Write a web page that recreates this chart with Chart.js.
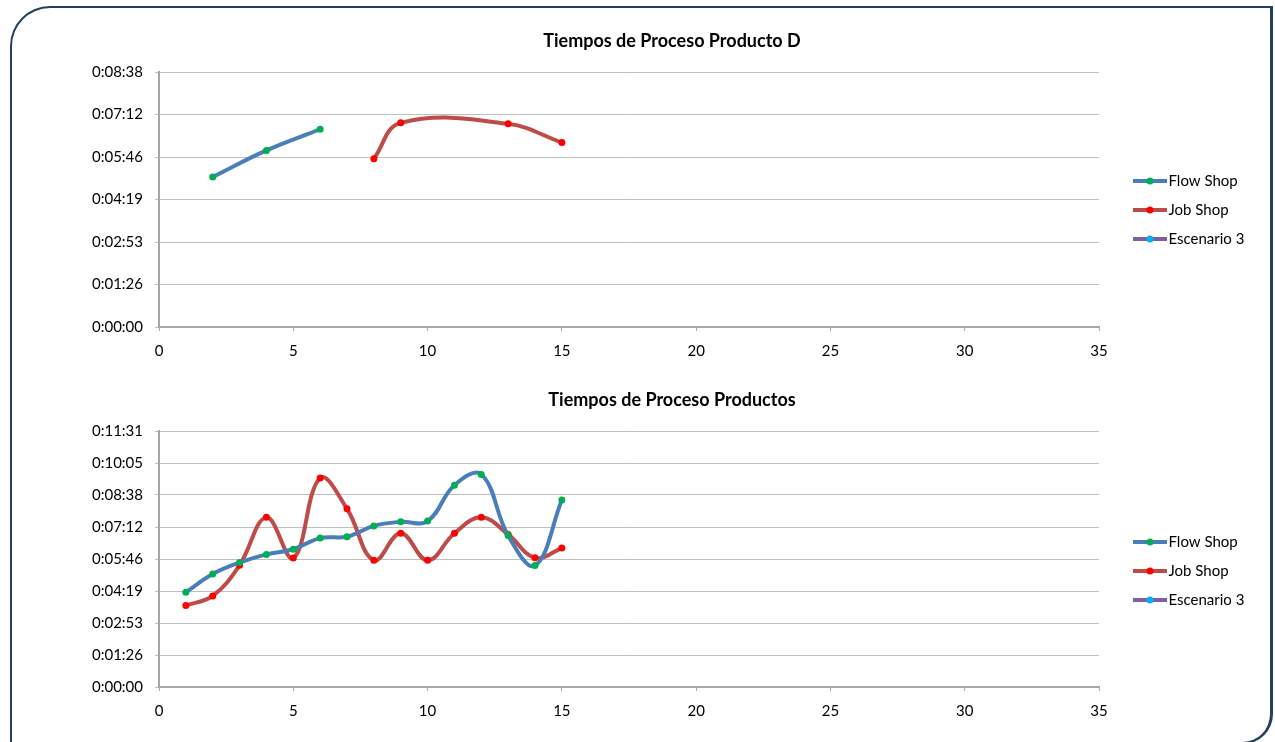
<!DOCTYPE html>
<html><head><meta charset="utf-8">
<script src="https://cdn.jsdelivr.net/npm/chart.js@4/dist/chart.umd.min.js"></script>
<style>
html,body{margin:0;padding:0;width:1275px;height:742px;overflow:hidden;background:#fff;}
#frame{position:absolute;left:10px;top:6px;width:1263px;height:738px;box-sizing:border-box;border:2px solid #243F60;border-right-width:3px;border-radius:40px 0 30px 0;}
canvas{position:absolute;left:69px;}
#c1{top:0;width:1206px;height:420px;}
#c2{top:389px;width:1206px;height:364px;}
</style></head><body>
<div id="frame"></div>
<canvas id="c1" width="1206" height="420"></canvas>
<canvas id="c2" width="1206" height="364"></canvas>
<script>
// ---- data (values in seconds) ----
const topTitle = 'Tiempos de Proceso Producto D';
const bottomTitle = 'Tiempos de Proceso Productos';
const seriesNames = ['Flow Shop', 'Job Shop', 'Escenario 3'];
const topFlowX = [2, 4, 6];
const topFlowY = [305, 359, 402];
const topJobX = [8, 9, 13, 15];
const topJobY = [342, 415, 413, 375];
const bottomX = [1, 2, 3, 4, 5, 6, 7, 8, 9, 10, 11, 12, 13, 14, 15];
const bottomFlowY = [256, 305, 336, 358, 372, 402, 406, 435, 446, 448, 545, 574, 409, 328, 505];
const bottomJobY = [220, 246, 329, 458, 348, 564, 481, 342, 415, 342, 415, 458, 412, 349, 375];
const esc3X = [];
const esc3Y = [];
const xTicks = [0, 5, 10, 15, 20, 25, 30, 35];
const topYTicks = ['0:00:00', '0:01:26', '0:02:53', '0:04:19', '0:05:46', '0:07:12', '0:08:38'];
const bottomYTicks = ['0:00:00', '0:01:26', '0:02:53', '0:04:19', '0:05:46', '0:07:12', '0:08:38', '0:10:05', '0:11:31'];
const yStep = 86.4; // 0.001 day

// ---- styles ----
const FONT = 'Lato';
const lineColors = ['#4A7EBB', '#BE4B48', '#7D60A0'];
const dotColors = ['#00B050', '#FF0000', '#00B0F0'];

function legendIcon(lc, dc) {
  const c = document.createElement('canvas');
  c.width = 60; c.height = 10;
  const g = c.getContext('2d');
  g.strokeStyle = lc; g.lineWidth = 4;
  g.beginPath(); g.moveTo(26, 5); g.lineTo(60, 5); g.stroke();
  g.fillStyle = dc; g.beginPath(); g.arc(43, 5, 3.5, 0, Math.PI * 2); g.fill();
  return c;
}
const icons = lineColors.map((lc, i) => legendIcon(lc, dotColors[i]));

const mctx = document.createElement('canvas').getContext('2d');
mctx.font = '15px ' + FONT;
const tw = Math.max(...seriesNames.map(s => mctx.measureText(s).width));
const legPad = 14, legPW = 48;
const legendW = legPad + legPW + 7.5 + tw + 10;
const sidePad = 176 - legendW;

function pts(xs, ys) { return xs.map((x, i) => ({x: x, y: ys[i]})); }

function ds(i, data) {
  return {
    label: seriesNames[i], data: data,
    borderColor: lineColors[i], backgroundColor: dotColors[i],
    pointBackgroundColor: dotColors[i], pointBorderWidth: 0, pointRadius: 3.5,
    pointHoverRadius: 3.5, borderWidth: 4, tension: 0.4, fill: false
  };
}

function makeChart(id, title, datasets, yLabels, titlePad, xHeight) {
  return new Chart(document.getElementById(id), {
    type: 'line',
    data: { datasets: datasets },
    options: {
      responsive: false, animation: false, events: [],
      layout: { padding: { left: sidePad, right: sidePad, top: 0, bottom: 0 } },
      plugins: {
        title: { display: true, text: title, color: '#000',
          font: { family: FONT, size: 18, weight: 'bold', lineHeight: 1.2 }, padding: titlePad },
        legend: { position: 'right', align: 'center',
          labels: { usePointStyle: true, pointStyleWidth: legPW, padding: legPad, color: '#000',
            font: { family: FONT, size: 15 },
            generateLabels: (chart) => chart.data.datasets.map((d, i) => ({
              text: d.label, pointStyle: icons[i], datasetIndex: i, hidden: false,
              fillStyle: dotColors[i], strokeStyle: lineColors[i], lineWidth: 0, fontColor: '#000'
            })) } },
        tooltip: { enabled: false }
      },
      scales: {
        x: { type: 'linear', min: 0, max: 35,
          afterBuildTicks: (s) => { s.ticks = xTicks.map(v => ({value: v})); },
          afterFit: (s) => { s.height = xHeight; },
          ticks: { color: '#000', font: { family: FONT, size: 15 }, padding: 11, maxRotation: 0 },
          grid: { drawOnChartArea: false, drawTicks: true, tickLength: 4, color: '#A6A6A6', lineWidth: 1 },
          border: { display: true, color: '#A6A6A6', width: 2 } },
        y: { type: 'linear', min: 0, max: yStep * (yLabels.length - 1),
          afterBuildTicks: (s) => { s.ticks = yLabels.map((l, i) => ({value: i * yStep})); },
          afterFit: (s) => { s.width = 90 - sidePad; },
          ticks: { color: '#000', font: { family: FONT, size: 15 }, padding: 12,
            callback: (v, i) => yLabels[i] },
          grid: { color: '#BFBFBF', lineWidth: 1, tickLength: 4, drawTicks: true },
          border: { display: true, color: '#A6A6A6', width: 2 } }
      }
    }
  });
}

makeChart('c1', topTitle,
  [ds(0, pts(topFlowX, topFlowY)), ds(1, pts(topJobX, topJobY)), ds(2, pts(esc3X, esc3Y))],
  topYTicks, { top: 30.2, bottom: 20.2 }, 93);

makeChart('c2', bottomTitle,
  [ds(0, pts(bottomX, bottomFlowY)), ds(1, pts(bottomX, bottomJobY)), ds(2, pts(esc3X, esc3Y))],
  bottomYTicks, { top: 0.2, bottom: 20.2 }, 66);
</script>
</body></html>
